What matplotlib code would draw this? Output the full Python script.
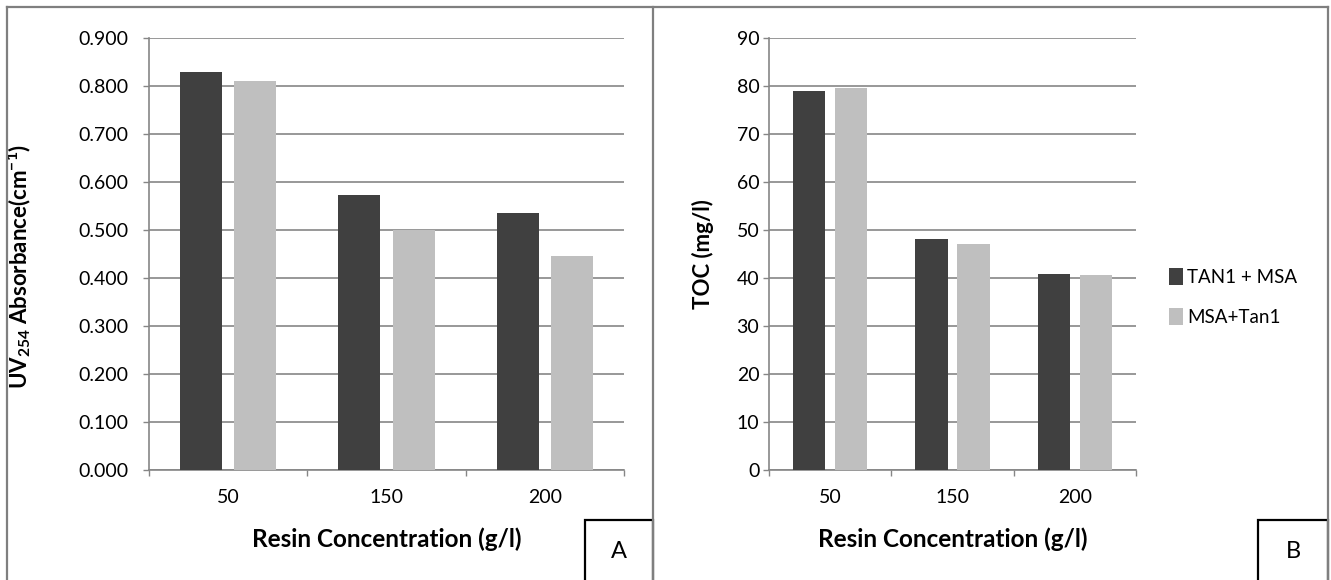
import matplotlib
matplotlib.use("Agg")
import matplotlib.pyplot as plt
from matplotlib.patches import Rectangle
from matplotlib.lines import Line2D
from matplotlib.ticker import FormatStrFormatter, FixedLocator
import numpy as np

plt.rcParams['font.family'] = ['Lato', 'DejaVu Sans']
plt.rcParams['mathtext.fontset'] = 'custom'
plt.rcParams['mathtext.rm'] = 'Lato'
plt.rcParams['mathtext.bf'] = 'Lato:bold'

# datos
concentraciones = ['50', '150', '200']
series = ['TAN1 + MSA', 'MSA+Tan1']
uv_tan1_msa = [0.829, 0.573, 0.535]
uv_msa_tan1 = [0.810, 0.500, 0.446]
toc_tan1_msa = [79.0, 48.0, 40.8]
toc_msa_tan1 = [79.6, 47.1, 40.6]

oscuro = '#404040'
claro = '#bfbfbf'
gris = '#868686'

W, H = 1331, 580
fig = plt.figure(figsize=(W / 100, H / 100), dpi=100)


def px(x0, y0, x1, y1):
    # caja en pixeles (desde arriba) -> fracciones de figura
    return [x0 / W, 1 - y1 / H, (x1 - x0) / W, (y1 - y0) / H]


def panel(rect, a, b, ymax, paso, fmt, ylabel, ypad):
    ax = fig.add_axes(rect)
    x = np.arange(len(concentraciones))
    ax.bar(x - 0.172, a, 0.265, color=oscuro, label=series[0], zorder=3)
    ax.bar(x + 0.172, b, 0.265, color=claro, label=series[1], zorder=3)
    ax.set_xlim(-0.5, 2.5)
    ax.set_ylim(0, ymax)
    ax.set_yticks(np.arange(0, ymax + paso / 2, paso))
    ax.yaxis.set_major_formatter(FormatStrFormatter(fmt))
    ax.set_xticks(x)
    ax.set_xticklabels(concentraciones)
    ax.xaxis.set_minor_locator(FixedLocator([-0.5, 0.5, 1.5, 2.5]))
    ax.tick_params(axis='x', which='major', length=0, pad=14, labelsize=14)
    ax.tick_params(axis='x', which='minor', length=4, width=1, color=gris, direction='out')
    ax.tick_params(axis='y', length=4, width=1, color=gris, pad=ypad, labelsize=14)
    ax.grid(axis='y', color=gris, linewidth=1.2, zorder=0)
    for s in ['top', 'right']:
        ax.spines[s].set_visible(False)
    for s in ['left', 'bottom']:
        ax.spines[s].set_color(gris)
        ax.spines[s].set_linewidth(1.2)
    ax.set_xlabel('Resin Concentration (g/l)', fontsize=17.5, fontweight='bold', labelpad=15)
    ax.set_ylabel(ylabel, fontsize=16, fontweight='bold')
    return ax


ax1 = panel(px(149, 37.7, 624, 470), uv_tan1_msa, uv_msa_tan1, 0.9, 0.1, '%.3f',
            r'UV$_{\mathbf{254}}$ Absorbance(cm$^{\mathbf{-1}}$)', 10.5)
ax1.yaxis.set_label_coords(-0.245, 0.47)

ax2 = panel(px(769, 37.7, 1136, 470), toc_tan1_msa, toc_msa_tan1, 90, 10, '%d',
            'TOC (mg/l)', 3)
ax2.yaxis.set_label_coords(-0.15, 0.5)

# leyenda a la derecha
ax2.legend(loc='center left', bbox_to_anchor=(1.045, 0.40), frameon=False,
           fontsize=13.5, handlelength=0.7, handleheight=1.0, handletextpad=0.25,
           labelspacing=1.2)

# marcos de los paneles
borde = dict(color='#7f7f7f', linewidth=1.6, transform=fig.transFigure)
fig.add_artist(Line2D([6.5 / W, 1328 / W], [1 - 7.3 / H] * 2, **borde))
fig.add_artist(Line2D([6.5 / W] * 2, [0, 1 - 7.3 / H], **borde))
fig.add_artist(Line2D([653 / W] * 2, [0, 1 - 7.3 / H], **borde))
fig.add_artist(Line2D([1328 / W] * 2, [0, 1 - 7.3 / H], **borde))

# etiquetas A y B
for x0, x1, letra in [(585, 653, 'A'), (1258, 1328, 'B')]:
    r = px(x0, 520, x1, 590)
    fig.add_artist(Rectangle((r[0], r[1]), r[2], r[3], fill=True, facecolor='white',
                             edgecolor='black', linewidth=1.6, transform=fig.transFigure))
    fig.text((x0 + x1) / 2 / W, 1 - 551 / H, letra, fontsize=17, ha='center', va='center')

fig.savefig('out.png', dpi=100)
